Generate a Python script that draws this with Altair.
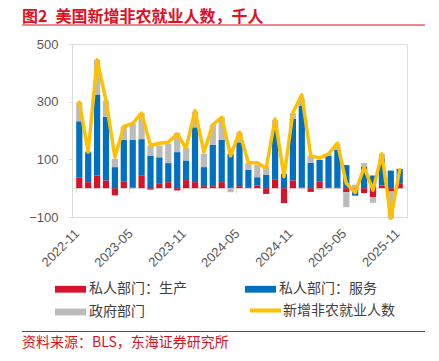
import altair as alt
import pandas as pd

months = ["2022-11", "2022-12", "2023-01", "2023-02", "2023-03", "2023-04", "2023-05",
          "2023-06", "2023-07", "2023-08", "2023-09", "2023-10", "2023-11", "2023-12",
          "2024-01", "2024-02", "2024-03", "2024-04", "2024-05", "2024-06", "2024-07",
          "2024-08", "2024-09", "2024-10", "2024-11", "2024-12", "2025-01", "2025-02",
          "2025-03", "2025-04", "2025-05", "2025-06", "2025-07", "2025-08", "2025-09",
          "2025-10", "2025-11"]
goods = [36, 21, 44, 27, -25, 24, 2, 43, -5, 15, 21, -8, 28, 21, 7, 7, 21, 1, 7, 1, 9,
         -20, 29, -52, 27, 2, -13, 22, 3, 1, -14, -10, -17, -31, 9, -10, 17]
services = [196, 104, 281, 221, 73, 144, 166, 127, 113, 92, 66, 125, 68, 190, 66, 143, 147,
            118, 152, 63, 29, 47, 175, 50, 214, 285, 88, 76, 109, 132, 80, -16, 75, 44, 93,
            61, 50]
gov = [66, 3, 120, 56, 29, 46, 57, 90, 35, 41, 67, 67, 44, 55, 46, 70, 78, -14, 35, 23, 42,
       30, 33, 0, 19, 23, 25, -5, 7, 20, -52, 12, 12, -20, 17, -96, -2]
total = [298, 125, 445, 304, 107, 214, 225, 260, 148, 156, 159, 188, 138, 269, 125, 220, 246,
         112, 194, 88, 88, 69, 240, 40, 262, 324, 113, 104, 119, 156, 17, -15, 72, -7, 119,
         -105, 64]
tick_months = ["2022-11", "2023-05", "2023-11", "2024-05", "2024-11", "2025-05", "2025-11"]
y_ticks = [-100, 100, 300, 500]
bar_series = ["私人部门：生产", "私人部门：服务", "政府部门"]
bar_colors = ["#D7132B", "#0070C0", "#BBBBBB"]
line_series = ["新增非农就业人数"]
line_color = "#FFC000"
title_text = "图2\u2002美国新增非农就业人数，千人"
source_text = "资料来源：BLS，东海证券研究所"

RED = "#E0101F"
GRAY_TXT = "#595959"
AXIS_GRAY = "#D9D9D9"
CJK = "Noto Sans CJK SC"
LAT = "Liberation Sans"

rows = []
for i, m in enumerate(months):
    for k, vals in enumerate([goods, services, gov]):
        rows.append({"month": m, "series": bar_series[k], "value": vals[i], "ord": k})
bars_df = pd.DataFrame(rows)
line_df = pd.DataFrame({"month": months, "total": total, "series": line_series[0]})
ticks_df = pd.DataFrame({"month": tick_months})

W, H = 335, 173
xscale = alt.Scale(domain=months, paddingInner=0.3, paddingOuter=0.47)
yscale = alt.Scale(domain=[-100, 500], nice=False, zero=False)

x_axis = alt.Axis(values=tick_months, labelAngle=-45, ticks=False, domain=False,
                  labelFontSize=13, labelColor=GRAY_TXT, labelFont=LAT, labelPadding=14,
                  labelOffset=-2, title=None, grid=False)
y_axis = alt.Axis(values=y_ticks, labelFontSize=13, labelColor=GRAY_TXT, labelFont=LAT,
                  domainColor=AXIS_GRAY, tickColor=AXIS_GRAY, tickSize=3, labelPadding=11,
                  grid=False, title=None)

bar_shape = "M-1,-0.22H1V0.22H-1Z"
bar_legend = alt.Legend(
    orient="none", legendX=-17, legendY=229.5, columns=2, direction="horizontal", title=None,
    symbolType=bar_shape, symbolSize=961, symbolStrokeWidth=0, symbolOpacity=1,
    labelFont=CJK, labelFontSize=14, labelColor="#404040", labelOffset=3,
    columnPadding=58, rowPadding=-2,
)
line_legend = alt.Legend(
    orient="none", legendX=176, legendY=249, title=None,
    symbolType="stroke", symbolSize=961, symbolStrokeWidth=4, symbolOpacity=1,
    labelFont=CJK, labelFontSize=14, labelColor="#404040", labelOffset=0,
)

zero_rule = alt.Chart(pd.DataFrame({"z": [0]})).mark_rule(
    color=AXIS_GRAY, strokeWidth=1).encode(y=alt.Y("z:Q", scale=yscale))

tick_rules = alt.Chart(ticks_df).mark_rule(color=AXIS_GRAY, strokeWidth=1).encode(
    x=alt.X("month:N", scale=xscale, bandPosition=0, sort=months),
    y=alt.datum(0), y2=alt.datum(-17))

bars = alt.Chart(bars_df).mark_bar().encode(
    x=alt.X("month:N", scale=xscale, axis=x_axis, sort=months),
    y=alt.Y("value:Q", scale=yscale, axis=y_axis, stack="zero"),
    color=alt.Color("series:N", scale=alt.Scale(domain=bar_series, range=bar_colors),
                    legend=bar_legend),
    order=alt.Order("ord:Q"),
)

line = alt.Chart(line_df).mark_line(strokeWidth=3.5, strokeJoin="round",
                                    strokeCap="round").encode(
    x=alt.X("month:N", scale=xscale, sort=months),
    y=alt.Y("total:Q", scale=yscale),
    color=alt.Color("series:N", scale=alt.Scale(domain=line_series, range=[line_color]),
                    legend=line_legend),
)

title_mark = alt.Chart(pd.DataFrame({"t": [title_text]})).mark_text(
    align="left", baseline="alphabetic", fontSize=16, fontWeight="bold", color=RED, font=CJK
).encode(x=alt.value(-50), y=alt.value(-22.5), text="t:N")

title_rule = alt.Chart(pd.DataFrame({"a": [0]})).mark_rule(color=RED, strokeWidth=1.2).encode(
    x=alt.value(-50), x2=alt.value(353), y=alt.value(-19))

source_rule = alt.Chart(pd.DataFrame({"a": [0]})).mark_rule(color=RED, strokeWidth=1.2).encode(
    x=alt.value(-50), x2=alt.value(353), y=alt.value(287.5))

source_mark = alt.Chart(pd.DataFrame({"t": [source_text]})).mark_text(
    align="left", baseline="alphabetic", fontSize=14, color=RED, font=CJK
).encode(x=alt.value(-50), y=alt.value(303), text="t:N")

chart = alt.layer(zero_rule, tick_rules, bars, line, title_mark, title_rule, source_rule,
                  source_mark).resolve_scale(color="independent").properties(
    width=W, height=H,
    autosize=alt.AutoSizeParams(type="none"),
    padding={"left": 64, "top": 36, "right": 20, "bottom": 134},
).configure_view(stroke=None).configure(background="white")

chart.save("out.html", embed_options={"renderer": "svg", "actions": False})
